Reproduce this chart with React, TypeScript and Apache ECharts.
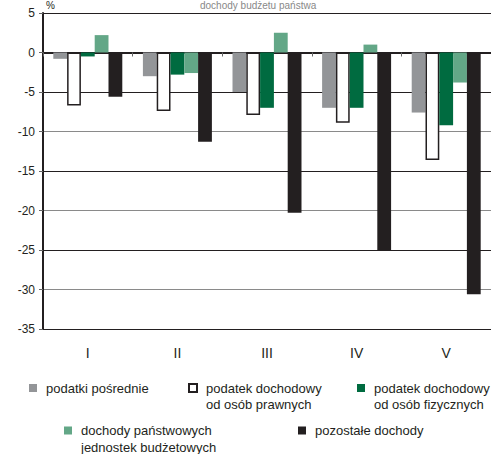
import React, { useEffect, useRef } from "react";
import * as echarts from "echarts";

// Quarters / periods on the category axis
const categories = ["I", "II", "III", "IV", "V"];

// Change of revenue by source, in %
const podatkiPosrednie = [-0.8, -3.0, -5.0, -7.0, -7.6];
const cit = [-6.7, -7.4, -7.9, -8.9, -13.6];
const pit = [-0.5, -2.8, -7.0, -7.0, -9.2];
const dochodyJednostek = [2.2, -2.6, 2.5, 1.0, -3.8];
const pozostale = [-5.6, -11.3, -20.3, -25.0, -30.6];

const seriesNames = [
  "podatki pośrednie",
  "podatek dochodowy\nod osób prawnych",
  "podatek dochodowy\nod osób fizycznych",
  "dochody państwowych\njednostek budżetowych",
  "pozostałe dochody",
];

const yMin = -35;
const yMax = 5;
const yStep = 5;

const FONT = "'Liberation Sans', Arial, sans-serif";
const DARK = "#231f20";
const GRAY_LINE = "#8a8a8a";

export default function App() {
  const ref = useRef<HTMLDivElement>(null);

  useEffect(() => {
    if (!ref.current) return;
    const chart = echarts.init(ref.current, undefined, { renderer: "svg" });

    const values = [podatkiPosrednie, cit, pit, dochodyJednostek, pozostale];
    const styles = [
      { color: "#939598" },
      { color: "#ffffff", borderColor: DARK, borderWidth: 1.5 },
      { color: "#006b40" },
      { color: "#63a787" },
      { color: DARK },
    ];

    const LH = 16.5;
    const legendText = {
      fontFamily: FONT,
      fontSize: 13,
      color: DARK,
      lineHeight: LH,
      padding: [0, 0, 0, 4],
    };

    // Two-line entries get a leading blank line so the swatch sits on the first line
    const legendSpec = [
      { name: seriesNames[0], left: 29, cy: 388 },
      { name: seriesNames[1], left: 188, cy: 388 },
      { name: seriesNames[2], left: 357, cy: 388 },
      { name: seriesNames[3], left: 64, cy: 430.5 },
      { name: seriesNames[4], left: 298, cy: 430.5 },
    ];

    chart.setOption({
      animation: false,
      grid: { left: 43, top: 13, width: 448, height: 316 },
      legend: legendSpec.map((l) => {
        const twoLine = l.name.includes("\n");
        return {
          data: [l.name],
          left: l.left,
          top: twoLine ? l.cy - (3 * LH) / 2 : l.cy - LH / 2,
          padding: 0,
          itemWidth: 8,
          itemHeight: 8,
          itemGap: 0,
          icon: "rect",
          selectedMode: false,
          formatter: (name: string) => (name.includes("\n") ? "\n" + name : name),
          textStyle: legendText,
        };
      }),
      graphic: [
        {
          type: "text",
          left: 46,
          top: 0,
          style: { text: "%", font: `10px ${FONT}`, fill: DARK },
        },
        {
          type: "text",
          left: 200,
          top: 0,
          style: { text: "dochody budżetu państwa", font: `10px ${FONT}`, fill: "#888" },
        },
      ],
      xAxis: {
        type: "category",
        data: categories,
        axisLine: { show: true, lineStyle: { color: DARK, width: 2 } },
        axisTick: { show: true, length: 4, lineStyle: { color: "#666" } },
        axisLabel: {
          fontFamily: FONT,
          fontSize: 14,
          color: DARK,
          margin: 17,
        },
        splitLine: { show: false },
      },
      yAxis: {
        type: "value",
        min: yMin,
        max: yMax,
        interval: yStep,
        axisLine: { show: true, lineStyle: { color: DARK, width: 2 } },
        axisTick: { show: true, length: 4, lineStyle: { color: "#666" } },
        axisLabel: {
          fontFamily: FONT,
          fontSize: 12,
          color: DARK,
          margin: 8,
        },
        splitLine: {
          show: true,
          lineStyle: {
            width: 1,
            color: [DARK, GRAY_LINE, DARK, GRAY_LINE, DARK, GRAY_LINE, DARK, DARK, DARK],
          },
        },
      },
      series: seriesNames.map((name, i) => ({
        name,
        type: "bar",
        data: values[i],
        barGap: "0%",
        barCategoryGap: "23%",
        itemStyle: styles[i],
      })),
    });

    return () => chart.dispose();
  }, []);

  return (
    <div
      ref={ref}
      style={{ position: "absolute", left: 0, top: 0, width: 491, height: 454 }}
    />
  );
}
